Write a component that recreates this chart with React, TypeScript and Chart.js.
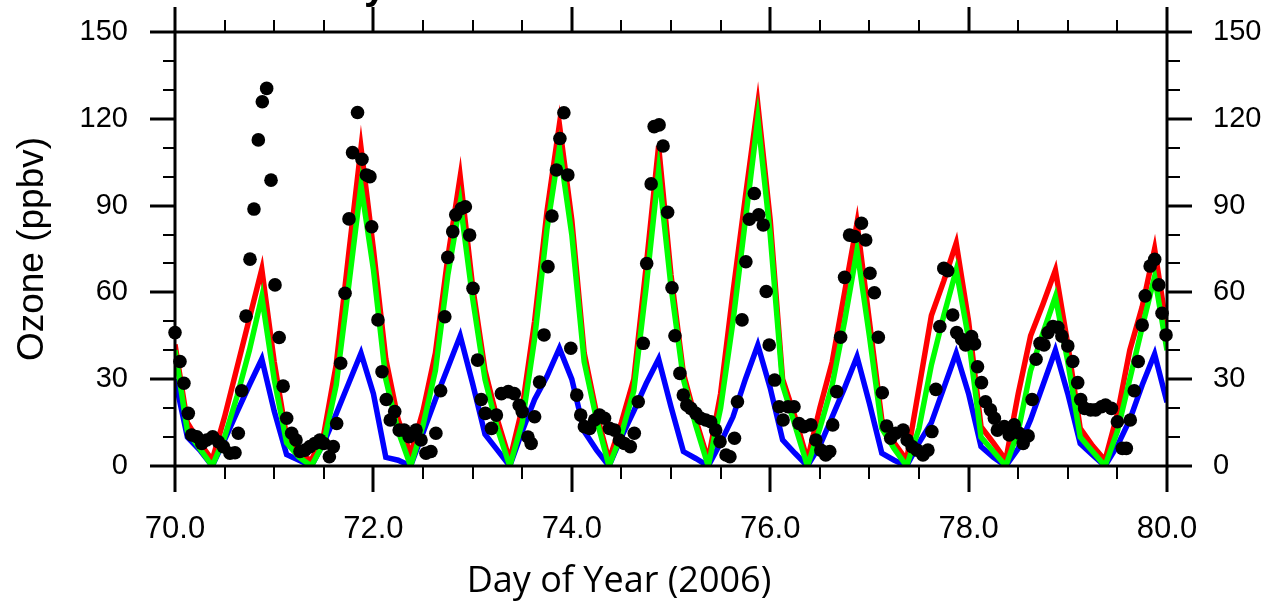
import React, { useEffect, useRef } from "react";
import { Chart, registerables } from "chart.js";

Chart.register(...registerables);

// Model output times (day of year, 3-hourly)
const modelDays = [
  70.0, 70.125, 70.25, 70.375, 70.5, 70.625, 70.75, 70.875,
  71.0, 71.125, 71.25, 71.375, 71.5, 71.625, 71.75, 71.875,
  72.0, 72.125, 72.25, 72.375, 72.5, 72.625, 72.75, 72.875,
  73.0, 73.125, 73.25, 73.375, 73.5, 73.625, 73.75, 73.875,
  74.0, 74.125, 74.25, 74.375, 74.5, 74.625, 74.75, 74.875,
  75.0, 75.125, 75.25, 75.375, 75.5, 75.625, 75.75, 75.875,
  76.0, 76.125, 76.25, 76.375, 76.5, 76.625, 76.75, 76.875,
  77.0, 77.125, 77.25, 77.375, 77.5, 77.625, 77.75, 77.875,
  78.0, 78.125, 78.25, 78.375, 78.5, 78.625, 78.75, 78.875,
  79.0, 79.125, 79.25, 79.375, 79.5, 79.625, 79.75, 79.875,
  80.0,
];

const redModel = [
  42, 15, 8, 2, 17, 34, 51, 68,
  36, 10, 4, 2, 11, 35, 73, 110,
  75, 37, 16, 4, 19, 39, 72, 100,
  62, 33, 16, 2, 20, 50, 88, 118,
  85, 39, 18, 2, 15, 30, 69, 110.6,
  66, 32, 16, 2, 25, 60, 93, 125,
  85, 30, 17, 2, 20, 36, 60, 84,
  50, 16, 8, 2, 27, 52, 64, 77,
  50, 13.6, 8, 2, 25, 45, 56, 67.7,
  42, 13, 7, 2, 18, 40, 55, 75,
  47,
];

const greenModel = [
  40, 12, 6, 0, 10, 24, 40, 58.5,
  30, 8, 3, 0, 8, 28, 62, 97,
  68, 30, 12, 0, 14, 33, 66, 91,
  58, 30, 13, 0, 15, 44, 82, 110,
  80, 36, 16, 0, 11, 26, 62, 102,
  62, 30, 14, 0, 20, 50, 85, 120,
  80, 28, 14, 0, 13, 28, 50, 74.6,
  45, 13, 6, 0, 13, 35, 52, 67.7,
  44, 10, 5, 0, 12, 33, 46, 58.5,
  36, 10, 5, 0, 12, 30, 48, 65.4,
  40,
];

const blueModel = [
  30, 10, 5.5, 0, 9, 18.6, 28, 37,
  19, 4, 2, 0, 8, 18, 28.5, 39,
  25, 3, 2, 0, 11.5, 23, 34, 45,
  28.5, 11, 5.5, 0, 12, 23, 31, 40.7,
  30, 12, 5.5, 0, 10, 19, 28.5, 37,
  20.5, 5, 2.6, 0, 8, 17, 30, 41.8,
  27, 9, 4.4, 0, 7, 17, 27, 37.8,
  21.7, 4.4, 2, 0, 8, 15, 27, 39,
  25, 6.7, 3, 0, 6, 16, 28, 40,
  25, 7.8, 3.8, 0, 7, 16, 28, 38.7,
  22,
];

// Observations
const obsDays = [
  70.0, 70.05, 70.09, 70.134, 70.168, 70.22, 70.27, 70.32, 70.38, 70.437,
  70.487, 70.554, 70.605, 70.638, 70.672, 70.716, 70.756, 70.796, 70.84, 70.88,
  70.924, 70.968, 71.008, 71.05, 71.09, 71.126, 71.176, 71.22, 71.26, 71.31,
  71.36, 71.41, 71.46, 71.5, 71.556, 71.596, 71.63, 71.67, 71.714, 71.754,
  71.79, 71.84, 71.885, 71.93, 71.965, 71.983, 72.046, 72.087, 72.13, 72.17,
  72.215, 72.26, 72.31, 72.36, 72.43, 72.48, 72.53, 72.58, 72.63, 72.678,
  72.72, 72.75, 72.8, 72.83, 72.886, 72.927, 72.97, 73.004, 73.05, 73.087,
  73.128, 73.19, 73.24, 73.29, 73.36, 73.42, 73.47, 73.5, 73.558, 73.59,
  73.625, 73.675, 73.72, 73.76, 73.8, 73.845, 73.88, 73.92, 73.96, 73.99,
  74.05, 74.09, 74.127, 74.18, 74.23, 74.28, 74.33, 74.38, 74.43, 74.48,
  74.53, 74.59, 74.63, 74.67, 74.72, 74.755, 74.8, 74.83, 74.88, 74.92,
  74.966, 75.01, 75.04, 75.09, 75.124, 75.16, 75.2, 75.25, 75.3, 75.35,
  75.4, 75.45, 75.494, 75.555, 75.594, 75.64, 75.67, 75.716, 75.755, 75.79,
  75.84, 75.884, 75.93, 75.96, 75.99, 76.045, 76.09, 76.13, 76.18, 76.24,
  76.29, 76.34, 76.41, 76.46, 76.51, 76.56, 76.6, 76.63, 76.67, 76.71,
  76.75, 76.8, 76.85, 76.92, 76.963, 77.006, 77.05, 77.09, 77.13, 77.174,
  77.215, 77.266, 77.34, 77.38, 77.43, 77.48, 77.54, 77.59, 77.63, 77.67,
  77.71, 77.75, 77.79, 77.84, 77.88, 77.93, 77.97, 78.03, 78.06, 78.09,
  78.13, 78.17, 78.22, 78.26, 78.29, 78.36, 78.41, 78.46, 78.51, 78.55,
  78.6, 78.64, 78.68, 78.72, 78.76, 78.8, 78.85, 78.9, 78.94, 79.0,
  79.05, 79.1, 79.13, 79.17, 79.23, 79.28, 79.34, 79.38, 79.44, 79.5,
  79.55, 79.59, 79.63, 79.67, 79.71, 79.75, 79.78, 79.83, 79.876, 79.917,
  79.95, 79.99,
];

const obsOzone = [
  46.1, 36.1, 28.6, 18.2, 10.7, 10.1, 7.8, 9.0, 10.1, 8.4,
  6.7, 4.4, 4.6, 11.3, 26.0, 51.8, 71.5, 88.8, 112.7, 125.9,
  130.5, 98.8, 62.6, 44.4, 27.6, 16.5, 11.3, 9.0, 5.0, 5.5,
  6.7, 7.8, 9.0, 7.8, 3.2, 6.7, 14.7, 35.5, 59.7, 85.4,
  108.3, 122.2, 106.0, 100.6, 100.0, 82.7, 50.5, 32.6, 23.0, 15.9,
  18.8, 12.4, 12.4, 10.1, 12.4, 9.0, 4.4, 5.0, 11.3, 26.0,
  51.6, 72.1, 81.0, 86.8, 89.0, 89.6, 79.8, 61.4, 36.6, 23.0,
  18.2, 13.0, 17.6, 25.0, 25.7, 25.0, 21.0, 18.8, 10.0, 7.8,
  17.0, 29.0, 45.3, 68.9, 86.4, 102.3, 113.2, 122.1, 100.6, 40.7,
  24.5, 17.6, 13.6, 13.0, 15.9, 17.6, 16.5, 13.0, 12.4, 9.0,
  7.8, 6.7, 11.3, 22.2, 42.4, 70.0, 97.5, 117.3, 117.9, 110.6,
  87.7, 61.6, 45.0, 32.0, 24.5, 21.0, 19.9, 18.2, 16.5, 15.9,
  15.3, 12.4, 8.4, 3.8, 3.2, 9.6, 22.2, 50.5, 70.6, 85.3,
  94.2, 86.8, 83.3, 60.3, 41.8, 29.7, 20.5, 15.9, 20.5, 20.5,
  14.7, 13.6, 14.2, 9.0, 5.5, 3.8, 5.0, 14.2, 25.7, 44.5,
  65.2, 79.8, 79.3, 83.9, 78.1, 66.6, 59.9, 44.5, 25.3, 13.8,
  9.6, 11.3, 12.4, 9.0, 6.7, 5.5, 3.8, 5.5, 11.9, 26.5,
  48.2, 68.3, 67.5, 52.2, 46.1, 43.8, 41.8, 44.7, 42.2, 34.3,
  28.8, 22.2, 19.4, 16.5, 12.4, 13.6, 10.7, 14.2, 11.3, 7.8,
  10.4, 23.0, 36.9, 42.4, 41.8, 46.1, 48.2, 47.9, 44.9, 41.5,
  36.1, 28.8, 23.0, 19.9, 19.4, 19.4, 20.5, 21.1, 19.9, 15.3,
  6.1, 6.1, 15.9, 26.0, 36.1, 48.7, 58.8, 69.1, 71.4, 62.6,
  52.8, 45.3,
];

// Axis tick values
const xMajorTicks = [70, 72, 74, 76, 78, 80];
const xMinorTicks = [70.5, 71, 71.5, 72.5, 73, 73.5, 74.5, 75, 75.5, 76.5, 77, 77.5, 78.5, 79, 79.5];
const yMajorTicks = [0, 30, 60, 90, 120, 150];
const yMinorTicks = [10, 20, 40, 50, 70, 80, 100, 110, 130, 140];

const yTitle = "Ozone (ppbv)";
const xTitle = "Day of Year (2006)";
const clippedTitle = "y";

const AXIS_FONT = "'Liberation Sans', Arial, Helvetica, sans-serif";

const framePlugin = {
  id: "ncl-frame",
  afterDatasetsDraw(chart: any) {
    const { ctx, chartArea: a, scales } = chart;
    const xs = scales.x;
    const ys = scales.y;
    ctx.save();
    ctx.strokeStyle = "#000";
    ctx.lineCap = "butt";
    const seg = (x1: number, y1: number, x2: number, y2: number, w: number) => {
      ctx.lineWidth = w;
      ctx.beginPath();
      ctx.moveTo(x1, y1);
      ctx.lineTo(x2, y2);
      ctx.stroke();
    };
    xMajorTicks.forEach((v) => {
      const p = Math.round(xs.getPixelForValue(v));
      seg(p, a.bottom, p, a.bottom + 26, 3);
      seg(p, a.top, p, a.top - 25, 3);
    });
    xMinorTicks.forEach((v) => {
      const p = Math.round(xs.getPixelForValue(v));
      seg(p, a.bottom, p, a.bottom + 13, 2);
      seg(p, a.top, p, a.top - 12, 2);
    });
    yMajorTicks.forEach((v) => {
      const p = Math.round(ys.getPixelForValue(v));
      seg(a.left - 25, p, a.left, p, 3);
      seg(a.right, p, a.right + 25, p, 3);
    });
    yMinorTicks.forEach((v) => {
      const p = Math.round(ys.getPixelForValue(v));
      seg(a.left - 12, p, a.left, p, 2);
      seg(a.right, p, a.right + 13, p, 2);
    });
    ctx.lineWidth = 3;
    ctx.strokeRect(a.left, a.top, a.right - a.left, a.bottom - a.top);

    // Titles
    ctx.fillStyle = "#000";
    ctx.save();
    ctx.translate(33, (a.top + a.bottom) / 2);
    ctx.rotate(-Math.PI / 2);
    ctx.font = `37px ${AXIS_FONT}`;
    ctx.textAlign = "center";
    ctx.textBaseline = "middle";
    ctx.fillText(yTitle, 0, 0);
    ctx.restore();

    ctx.font = "36px 'Open Sans', Lato, sans-serif";
    ctx.textAlign = "center";
    ctx.textBaseline = "middle";
    ctx.fillText(xTitle, 619, 582);

    ctx.font = `bold 40px ${AXIS_FONT}`;
    ctx.textAlign = "center";
    ctx.textBaseline = "alphabetic";
    ctx.fillText(clippedTitle, 375, -1);
    ctx.restore();
  },
};

export default function App() {
  const canvasRef = useRef<HTMLCanvasElement | null>(null);

  useEffect(() => {
    const canvas = canvasRef.current;
    if (!canvas) return;
    const pts = (xs: number[], ys: number[]) => xs.map((x, i) => ({ x, y: ys[i] }));
    const lineDs = (label: string, color: string, values: number[], order: number) => ({
      type: "line" as const,
      label,
      data: pts(modelDays, values),
      borderColor: color,
      backgroundColor: color,
      borderWidth: 5.5,
      pointRadius: 0,
      showLine: true,
      tension: 0,
      fill: false,
      order,
      borderJoinStyle: "miter" as const,
    });
    const noPadV = (w: number) => (s: any) => {
      s.width = w;
      s.paddingTop = 0;
      s.paddingBottom = 0;
    };

    const chart = new Chart(canvas, {
      type: "scatter",
      data: {
        datasets: [
          {
            label: "Observed",
            data: pts(obsDays, obsOzone),
            backgroundColor: "#000",
            borderColor: "#000",
            pointRadius: 6.8,
            borderWidth: 0,
            order: 0,
            clip: false,
          } as any,
          lineDs("Model (green)", "#00ff00", greenModel, 1),
          lineDs("Model (red)", "#ff0000", redModel, 2),
          lineDs("Model (blue)", "#0000ff", blueModel, 3),
        ],
      },
      options: {
        responsive: false,
        animation: false,
        devicePixelRatio: 1,
        layout: { padding: { top: 32, left: 0, right: 0, bottom: 0 } },
        plugins: {
          legend: { display: false },
          tooltip: { enabled: false },
          title: { display: false },
        },
        scales: {
          x: {
            type: "linear",
            position: "bottom",
            min: 70,
            max: 80,
            grid: { display: false, drawTicks: false },
            border: { display: false },
            ticks: {
              stepSize: 2,
              color: "#000",
              padding: 45,
              maxRotation: 0,
              autoSkip: false,
              font: { family: AXIS_FONT, size: 31 },
              callback: (v: any) => Number(v).toFixed(1),
            },
            afterFit: (s: any) => {
              s.height = 141;
              s.paddingLeft = 0;
              s.paddingRight = 0;
            },
          },
          y: {
            type: "linear",
            position: "left",
            min: 0,
            max: 150,
            grid: { display: false, drawTicks: false },
            border: { display: false },
            ticks: {
              stepSize: 30,
              color: "#000",
              padding: 47,
              font: { family: AXIS_FONT, size: 29 },
            },
            afterFit: noPadV(175),
          },
          y2: {
            type: "linear",
            position: "right",
            min: 0,
            max: 150,
            grid: { display: false, drawTicks: false },
            border: { display: false },
            ticks: {
              stepSize: 30,
              color: "#000",
              padding: 46,
              font: { family: AXIS_FONT, size: 29 },
            },
            afterFit: noPadV(102),
          },
        },
      } as any,
      plugins: [framePlugin],
    });
    return () => chart.destroy();
  }, []);

  return (
    <div style={{ position: "fixed", left: 0, top: 0, width: 1269, height: 607, background: "#fff" }}>
      <canvas ref={canvasRef} width={1269} height={607} style={{ width: 1269, height: 607, display: "block" }} />
    </div>
  );
}
